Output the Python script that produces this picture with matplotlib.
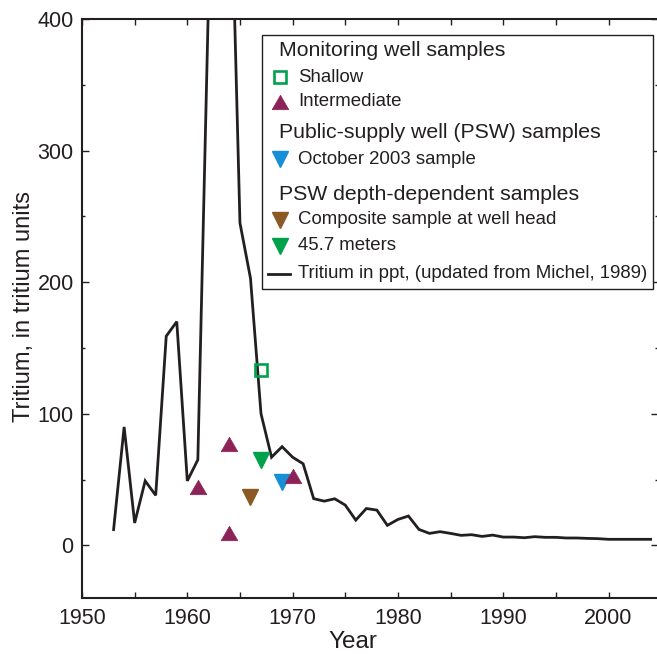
import matplotlib
matplotlib.use("Agg")
import matplotlib.pyplot as plt
from matplotlib.patches import Rectangle
from matplotlib.ticker import MultipleLocator

plt.rcParams["font.family"] = ["Liberation Sans", "DejaVu Sans"]

# Tritium in precipitation (updated from Michel, 1989)
years = list(range(1953, 2005))
tritium_ppt = [12, 90, 17, 49, 38, 159, 170, 49, 65, 410, 1000, 555, 245, 203,
               100, 67, 75, 67, 62, 35.5, 33.6, 35.4, 30.6, 19.2, 28, 26.8,
               15.2, 19.7, 22.3, 12.1, 9.1, 10.4, 9.1, 7.6, 8.1, 6.8, 7.8,
               6.3, 6.3, 5.8, 6.6, 6.1, 6.1, 5.6, 5.6, 5.3, 5.1, 4.6, 4.6,
               4.6, 4.6, 4.6]

# Monitoring well samples
shallow_year = [1967]
shallow_tu = [133.4]
intermediate_year = [1961, 1964, 1964, 1970]
intermediate_tu = [44.6, 77.4, 9.1, 52.4]

# Public-supply well samples
psw_oct2003_year = [1969]
psw_oct2003_tu = [48.4]

# PSW depth-dependent samples
composite_year = [1966]
composite_tu = [36.7]
depth_457_year = [1967]
depth_457_tu = [65]

LINE = "#231f20"
GREEN = "#00a14b"
MAROON = "#8c2358"
BLUE = "#168fd6"
BROWN = "#8b5a24"

W, H = 657, 654
fig = plt.figure(figsize=(W / 100, H / 100), dpi=100)
ax_l, ax_r, ax_t, ax_b = 82, 658, 19, 598
ax = fig.add_axes([ax_l / W, (H - ax_b) / H, (ax_r - ax_l) / W, (ax_b - ax_t) / H])

up_tri = [(-1, -0.866), (1, -0.866), (0, 0.866), (-1, -0.866)]

ax.plot(years, tritium_ppt, color=LINE, lw=2.0, zorder=2, solid_joinstyle="miter")
ax.plot(psw_oct2003_year, psw_oct2003_tu, ls="none", marker="v", ms=11.5,
        color=BLUE, mec=BLUE, zorder=3)
ax.plot(composite_year, composite_tu, ls="none", marker="v", ms=11.5,
        color=BROWN, mec=BROWN, zorder=3)
ax.plot(depth_457_year, depth_457_tu, ls="none", marker="v", ms=11.5,
        color=GREEN, mec=GREEN, zorder=3)
ax.plot(intermediate_year, intermediate_tu, ls="none", marker=up_tri, ms=12,
        color=MAROON, mec=MAROON, mew=0.5, zorder=4)
ax.plot(shallow_year, shallow_tu, ls="none", marker="s", ms=8, mfc="none",
        mec=GREEN, mew=1.9, zorder=4)

ax.set_xlim(1950, 2004.7)
ax.set_ylim(-40, 400)
ax.xaxis.set_major_locator(MultipleLocator(10))
ax.xaxis.set_minor_locator(MultipleLocator(5))
ax.yaxis.set_major_locator(MultipleLocator(100))
ax.yaxis.set_minor_locator(MultipleLocator(50))

for s in ["left", "bottom", "top"]:
    ax.spines[s].set_linewidth(1.5)
    ax.spines[s].set_color(LINE)
ax.spines["right"].set_visible(False)

ax.tick_params(which="both", direction="in", top=True, right=True,
               color=LINE, width=1.0, labelsize=15.5, labelcolor="#231f20")
ax.tick_params(axis="x", which="both", length=4, pad=7)
ax.tick_params(axis="y", which="major", length=5, pad=6)
ax.tick_params(axis="y", which="minor", length=2)

ax.set_xlabel("Year", fontsize=17.5, color="#231f20")
ax.xaxis.set_label_coords((353 - ax_l) / (ax_r - ax_l), -0.057)
ax.set_ylabel("Tritium, in tritium units", fontsize=17, color="#231f20")
ax.yaxis.set_label_coords(-0.082, 0.504)


def fx(px):
    return (px - ax_l) / (ax_r - ax_l)


def fy(py):
    return (ax_b - py) / (ax_b - ax_t)


tr = ax.transAxes
ax.add_patch(Rectangle((fx(262), fy(289)), fx(653) - fx(262), fy(35) - fy(289),
                       transform=tr, fill=True, facecolor="white",
                       edgecolor=LINE, lw=1.0, zorder=5))

head_fs = 15.3
item_fs = 13.4
mx = 280
tx = 298

def heading(py, text):
    ax.text(fx(279), fy(py), text, transform=tr, fontsize=head_fs,
            va="center", ha="left", color="#231f20", zorder=6)


def item(py, text, **kw):
    ax.plot([fx(mx)], [fy(py)], transform=tr, ls="none", zorder=6,
            clip_on=False, **kw)
    ax.text(fx(tx), fy(py), text, transform=tr, fontsize=item_fs,
            va="center", ha="left", color="#231f20", zorder=6)


heading(51, "Monitoring well samples")
item(77, "Shallow", marker="s", ms=8, mfc="none", mec=GREEN, mew=1.9)
item(102, "Intermediate", marker=up_tri, ms=12, color=MAROON, mec=MAROON, mew=0.5)
heading(133, "Public-supply well (PSW) samples")
item(159, "October 2003 sample", marker="v", ms=11.5, color=BLUE, mec=BLUE)
heading(194, "PSW depth-dependent samples")
item(220, "Composite sample at well head", marker="v", ms=11.5, color=BROWN, mec=BROWN)
item(246, "45.7 meters", marker="v", ms=11.5, color=GREEN, mec=GREEN)
ax.plot([fx(268), fx(290)], [fy(274), fy(274)], transform=tr, color=LINE,
        lw=2.0, zorder=6, clip_on=False)
ax.text(fx(tx), fy(274), "Tritium in ppt, (updated from Michel, 1989)",
        transform=tr, fontsize=item_fs, va="center", ha="left",
        color="#231f20", zorder=6)

fig.savefig("out.png", dpi=100)
